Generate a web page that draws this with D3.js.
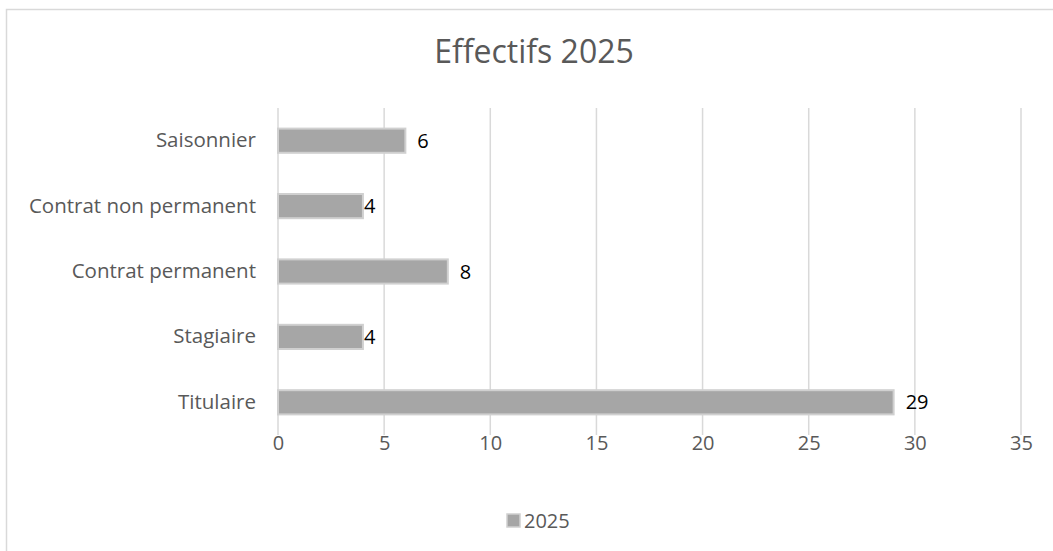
<!DOCTYPE html>
<html>
<head>
<meta charset="utf-8">
<script src="https://cdn.jsdelivr.net/npm/d3@7"></script>
<style>
  body { margin: 0; background: #fff; }
  svg { display: block; font-family: "Open Sans", "Noto Sans", sans-serif; }
</style>
</head>
<body>
<div id="chart"></div>
<script>
const categories = ['Saisonnier', 'Contrat non permanent', 'Contrat permanent', 'Stagiaire', 'Titulaire']
const values2025 = [6, 4, 8, 4, 29]
const xTicks = [0, 5, 10, 15, 20, 25, 30, 35]
const seriesName = '2025'

const W = 1053, H = 551
const margin = { top: 108, right: 32, bottom: 116, left: 278 }
const width = W - margin.left - margin.right
const height = H - margin.top - margin.bottom

const svg = d3.select('#chart').append('svg')
  .attr('width', W)
  .attr('height', H)

// chart border (right/bottom fall outside the view)
svg.append('rect')
  .attr('x', 6.5).attr('y', 9.5)
  .attr('width', W + 10).attr('height', H + 10)
  .attr('fill', 'none')
  .attr('stroke', '#d9d9d9')
  .attr('stroke-width', 1.5)

// title
svg.append('text')
  .attr('x', 534).attr('y', 52)
  .attr('dy', '0.35em')
  .attr('text-anchor', 'middle')
  .style('font-size', '32px')
  .style('fill', '#595959')
  .text('Effectifs 2025')

const g = svg.append('g')
  .attr('transform', `translate(${margin.left}, ${margin.top})`)

let xScale = d3.scaleLinear().domain([0, 35]).range([0, width])
let yScale = d3.scaleBand().domain(categories).range([0, height]).paddingInner(0.63).paddingOuter(0.315)

// gridlines
g.selectAll('line.grid')
  .data(xTicks)
  .enter()
  .append('line')
  .attr('class', 'grid')
  .attr('x1', d => xScale(d)).attr('x2', d => xScale(d))
  .attr('y1', 0).attr('y2', height)
  .attr('stroke', '#d9d9d9')
  .attr('stroke-width', 1.5)

// x axis
let xAxis = d3.axisBottom(xScale).tickValues(xTicks).tickSize(0).tickPadding(0)
g.append('g')
  .attr('transform', `translate(0, ${height})`)
  .call(xAxis)
  .call(a => a.select('.domain').remove())
  .selectAll('text')
  .attr('y', 8)
  .attr('dy', '0.35em')
  .style('font-size', '20px')
  .style('fill', '#595959')
  .style('font-family', '"Open Sans", sans-serif')

// y axis labels
let yAxis = d3.axisLeft(yScale).tickSize(0).tickPadding(22)
g.append('g')
  .call(yAxis)
  .call(a => a.select('.domain').remove())
  .selectAll('text')
  .style('font-size', '20.5px')
  .style('fill', '#595959')
  .style('font-family', '"Open Sans", sans-serif')

// bars
g.selectAll('rect.bar')
  .data(values2025)
  .enter()
  .append('rect')
  .attr('class', 'bar')
  .attr('x', 0)
  .attr('y', (d, i) => yScale(categories[i]))
  .attr('width', d => xScale(d))
  .attr('height', yScale.bandwidth())
  .style('fill', '#a6a6a6')
  .style('stroke', '#d0d0d0')
  .style('stroke-width', 2)

// data labels
g.selectAll('text.lbl')
  .data(values2025)
  .enter()
  .append('text')
  .attr('class', 'lbl')
  .attr('x', d => xScale(d) + (d < 5 ? 1 : 12))
  .attr('y', (d, i) => yScale(categories[i]) + yScale.bandwidth() / 2)
  .attr('dy', '0.35em')
  .style('font-size', '20px')
  .style('fill', '#000')
  .text(d => d)

// legend
const legend = svg.append('g').attr('transform', 'translate(507, 521)')
legend.append('rect')
  .attr('x', 0).attr('y', -7)
  .attr('width', 13).attr('height', 13)
  .style('fill', '#a6a6a6')
  .style('stroke', '#d0d0d0')
  .style('stroke-width', 1.5)
legend.append('text')
  .attr('x', 17).attr('y', 0)
  .attr('dy', '0.35em')
  .style('font-size', '20px')
  .style('fill', '#595959')
  .text(seriesName)
</script>
</body>
</html>
